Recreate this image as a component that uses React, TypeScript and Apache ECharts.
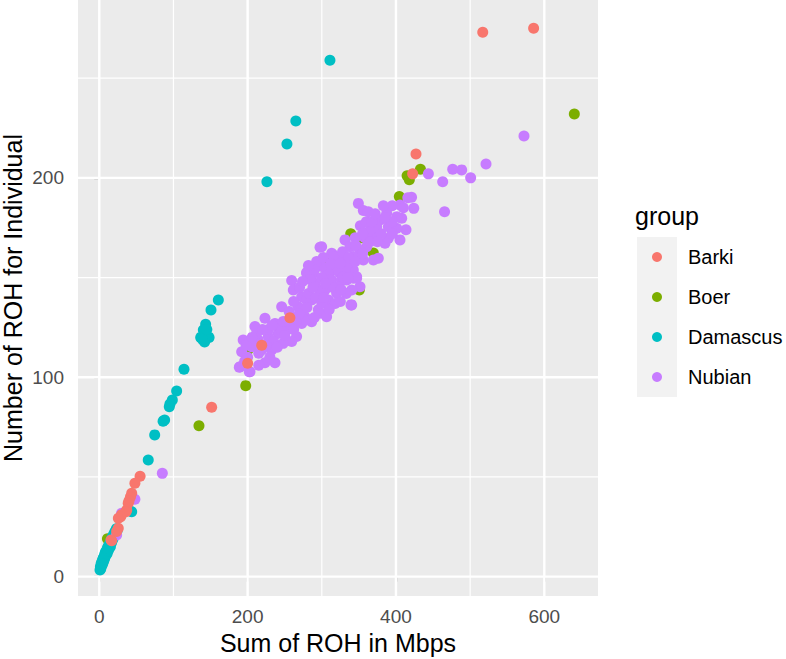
import React, { useEffect, useRef } from "react";
import * as echarts from "echarts";

const FONT = "'Liberation Sans', Arial, Helvetica, sans-serif";

const categories = ["Barki", "Boer", "Damascus", "Nubian"];
const colors = ["#F8766D", "#7CAE00", "#00BFC4", "#C77CFF"];

const xTicks = [0, 200, 400, 600];
const xMinor = [100, 300, 500];
const yTicks = [0, 100, 200];
const yMinor = [50, 150, 250];

const X_MIN = -28.7;
const X_MAX = 672.4;
const Y_MIN = -9.7;
const Y_MAX = 289.2;

const barki: number[][] = [
  [517, 273], [585.6, 275], [427, 212], [422.5, 202], [257, 129.9], [219, 116],
  [200, 107], [151.5, 85],
  [55, 50.3], [48, 46.8], [43.7, 41.8], [42, 40], [40, 38], [39, 36.8], [37, 33.4],
  [36, 32.6], [30, 31], [28.8, 30], [25.7, 29.3], [25.6, 24.3], [23.4, 22.6],
  [16.7, 18], [15.8, 18.4],
];

const boer: number[][] = [
  [640.5, 232], [433, 204.3], [415, 201], [418, 199], [404.5, 190.6], [339, 172],
  [353.6, 170], [306.5, 158.3], [369.5, 162.3], [350.6, 143.8], [134.4, 75.7],
  [197.4, 95.8], [201, 114], [11, 19],
];

const damascus: number[][] = [
  [311, 259], [265, 228.5], [253, 217], [226, 198],
  [160.5, 138.8], [150.6, 133.7], [143.4, 126.6], [140.3, 123.7], [136.7, 120],
  [148, 120], [142, 117.7], [144, 121], [139, 119], [145, 124],
  [114.2, 104], [104.3, 93.1], [98.5, 88.6], [95.3, 86.6], [94.4, 85.2], [88.1, 78.6],
  [86, 78], [74.7, 71.1], [66, 58.5], [43.7, 32.6], [41, 33],
  [1, 3.4], [1.5, 5], [2, 4], [2.5, 6.5], [3, 5.5], [3.5, 7.5], [4, 6], [4.5, 8.5],
  [5, 7], [5.5, 9.5], [6, 8], [6.5, 10], [7, 9], [7.5, 11.5], [8, 10], [8.5, 12.5],
  [9, 11], [10, 13], [10.5, 11.5], [11, 14.5], [12, 13], [12.5, 15.5], [13, 14],
  [14, 16.5], [15, 15], [15.5, 18], [16.5, 17], [17, 19.5], [18, 18.5], [19, 21],
  [20, 20], [21, 22.5], [22, 21.5], [23, 24], [24, 23],
];

const nubian: number[][] = [
  [572.6, 221], [521.4, 207], [500.7, 200], [488.6, 204], [476.5, 204.3], [463, 198],
  [465.5, 183], [443.7, 202], [421, 190.3], [424, 184.7], [85, 51.8], [48, 38.8],
  [30, 31.8], [23.4, 20.9], [413.5, 174], [407.7, 179.7], [387.5, 182.2], [401, 180.5],
  [349.3, 187.2], [356, 183.6], [362.7, 183], [405.4, 186.4], [378.5, 178.9], [374, 175.5],
  [389.7, 175.5], [401, 174.7], [405.4, 168.9], [385.2, 167.2], [369.6, 170.5], [365.1, 173.9],
  [360.5, 165.5], [351.5, 163.8], [342.5, 160.5], [356, 158.8], [376.2, 159.7], [389.7, 169.7],
  [342.5, 153.8], [324.5, 152.2], [299.8, 165.5], [315.5, 161.3], [320, 155.5], [306.5, 153.8],
  [333.6, 148.8], [347, 150.4], [351.5, 145.4], [369.6, 158.8], [331.3, 168.9], [338, 165.5],
  [340.3, 136.3], [339.4, 136.3],
  [297.6, 165.2], [313.3, 162.2], [324.5, 159.7], [279.6, 152.5], [259.4, 148.5], [261.6, 143.8],
  [245.9, 135.4], [209.9, 125.4], [223.4, 129.6], [236.9, 127], [194, 118.7], [192, 112.8],
  [189.7, 105.3], [203.2, 102.8], [223.4, 107.3], [236.9, 107.3], [232.4, 113.7], [266, 120.4],
  [259.4, 117.9], [248, 117],
  [277.3, 130.4], [286.3, 138.8], [304.3, 143.8], [313.3, 148.8], [317.8, 153.8], [290.8, 147.1],
  [272.9, 140.4], [268.3, 135.4], [295.3, 133.8], [308.8, 138.8], [259.4, 130.4], [252.7, 123.7],
  [241.3, 122], [227.9, 120.4], [214.4, 118.7], [205.5, 115.3], [219, 113.7], [272.9, 127],
  [286.3, 127.9], [326.8, 148.8], [322.3, 145.4], [308.8, 152.2], [299.8, 155.5], [288.5, 152.2],
  [331.3, 153.8], [335.8, 157.2], [342.5, 149.6], [340.3, 143.8],
  [279.6, 152.2], [315.5, 160.5], [329, 150.4], [347, 149.6], [311, 148.8], [297.6, 143.8],
  [320, 142.1], [279.6, 138.8], [297.6, 132.1], [277.3, 128.7], [306.5, 130.4],
  [188.8, 105], [202.2, 102.8],
  [282, 142], [292, 140], [300, 137], [265, 128], [255, 126], [245, 124], [235, 118], [228, 124],
  [212, 122], [200, 110], [198, 116], [262, 138], [270, 145], [284, 149], [293, 158], [302, 160],
  [312, 157], [328, 163], [336, 160], [345, 170], [352, 176], [360, 178], [368, 178], [380, 172],
  [395, 178], [410, 185], [416, 190], [395, 186], [383, 186], [372, 182], [358, 170], [346, 166],
  [333, 142], [318, 137], [310, 134], [325, 138], [300, 150], [290, 154], [282, 156],
  [215, 112], [225, 116], [240, 115], [250, 121], [262, 124], [270, 132], [280, 135], [290, 130],
  [303, 140], [315, 145], [326, 144], [335, 150], [345, 158], [355, 162], [365, 168], [375, 168],
  [385, 180], [395, 172], [355, 172], [325, 157], [305, 147], [288, 145], [274, 148], [256, 133],
  [248, 128], [233, 126], [220, 124], [206, 120], [196, 108], [215, 106], [230, 110],
];

const seriesData: Record<string, number[][]> = {
  Barki: barki,
  Boer: boer,
  Damascus: damascus,
  Nubian: nubian,
};

const drawOrder = ["Boer", "Damascus", "Nubian", "Barki"];

function vLines(values: number[], width: number) {
  return {
    type: "custom",
    silent: true,
    z: 1,
    data: values.map((v) => [v, 0]),
    encode: { x: 0, y: 1 },
    renderItem: (_p: any, api: any) => {
      const v = api.value(0);
      const a = api.coord([v, Y_MIN]);
      const b = api.coord([v, Y_MAX]);
      return {
        type: "line",
        shape: { x1: a[0], y1: a[1], x2: b[0], y2: b[1] },
        style: { stroke: "#FFFFFF", lineWidth: width },
      };
    },
  };
}

function hLines(values: number[], width: number) {
  return {
    type: "custom",
    silent: true,
    z: 1,
    data: values.map((v) => [0, v]),
    encode: { x: 0, y: 1 },
    renderItem: (_p: any, api: any) => {
      const v = api.value(1);
      const a = api.coord([X_MIN, v]);
      const b = api.coord([X_MAX, v]);
      return {
        type: "line",
        shape: { x1: a[0], y1: a[1], x2: b[0], y2: b[1] },
        style: { stroke: "#FFFFFF", lineWidth: width },
      };
    },
  };
}

export default function App() {
  const ref = useRef<HTMLDivElement>(null);

  useEffect(() => {
    document.body.style.margin = "0";
    if (!ref.current) return;
    const chart = echarts.init(ref.current, undefined, { renderer: "svg" });

    const scatterSeries = drawOrder.map((name) => ({
      type: "scatter",
      name,
      data: seriesData[name],
      symbol: "circle",
      symbolSize: 11,
      itemStyle: { color: colors[categories.indexOf(name)], opacity: 1 },
      z: 3,
      silent: true,
    }));

    const axisCommon = {
      type: "value",
      axisLine: { show: false },
      splitLine: { show: false },
    };

    chart.setOption({
      animation: false,
      backgroundColor: "#FFFFFF",
      textStyle: { fontFamily: FONT },
      color: colors,
      grid: {
        left: 78,
        top: 0,
        width: 520,
        height: 596,
        show: true,
        backgroundColor: "#EBEBEB",
        borderWidth: 0,
        containLabel: false,
      },
      xAxis: {
        ...axisCommon,
        min: X_MIN,
        max: X_MAX,
        axisTick: {
          show: true,
          customValues: xTicks,
          length: 5,
          lineStyle: { color: "#333333", width: 1.2 },
        },
        axisLabel: {
          customValues: xTicks,
          margin: 11,
          fontSize: 19,
          color: "#4D4D4D",
          fontFamily: FONT,
        },
      },
      yAxis: {
        ...axisCommon,
        min: Y_MIN,
        max: Y_MAX,
        axisTick: {
          show: true,
          customValues: yTicks,
          length: 5,
          lineStyle: { color: "#333333", width: 1.2 },
        },
        axisLabel: {
          customValues: yTicks,
          margin: 14,
          fontSize: 19,
          color: "#4D4D4D",
          fontFamily: FONT,
        },
      },
      legend: {
        data: categories,
        orient: "vertical",
        left: 652,
        top: 237,
        padding: 0,
        itemGap: 0,
        itemWidth: 52,
        itemHeight: 10,
        selectedMode: false,
        icon: "circle",
        textStyle: { fontSize: 20, color: "#000000", fontFamily: FONT, lineHeight: 40 },
        z: 5,
      },
      graphic: [
        {
          type: "rect",
          z: 0,
          silent: true,
          shape: { x: 637, y: 237, width: 40, height: 160 },
          style: { fill: "#F2F2F2" },
        },
        {
          type: "text",
          silent: true,
          x: 635,
          y: 216,
          style: {
            text: "group",
            fontSize: 25,
            fontFamily: FONT,
            fill: "#000000",
            textAlign: "left",
            textVerticalAlign: "middle",
          },
        },
        {
          type: "text",
          silent: true,
          x: 338,
          y: 643,
          style: {
            text: "Sum of ROH in Mbps",
            fontSize: 25,
            fontFamily: FONT,
            fill: "#000000",
            textAlign: "center",
            textVerticalAlign: "middle",
          },
        },
        {
          type: "text",
          silent: true,
          x: 13,
          y: 298,
          rotation: Math.PI / 2,
          style: {
            text: "Number of ROH for Individual",
            fontSize: 25,
            fontFamily: FONT,
            fill: "#000000",
            textAlign: "center",
            textVerticalAlign: "middle",
          },
        },
      ],
      series: [
        vLines(xMinor, 1.2),
        hLines(yMinor, 1.2),
        vLines(xTicks, 2.4),
        hLines(yTicks, 2.4),
        ...scatterSeries,
      ],
    });

    return () => {
      chart.dispose();
    };
  }, []);

  return <div ref={ref} style={{ width: 786, height: 659 }} />;
}
